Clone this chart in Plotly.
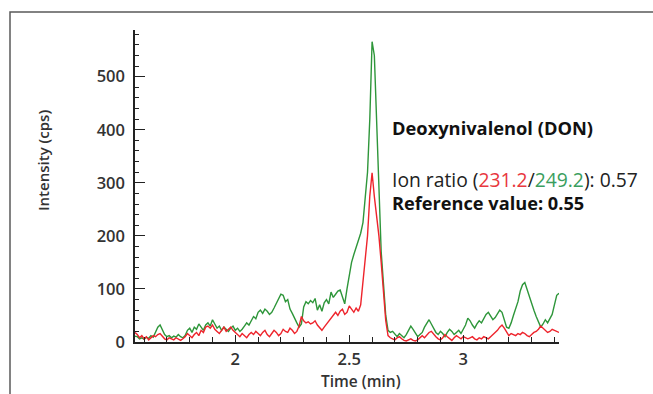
import plotly.graph_objects as go

# ---- data ----
time_min = [
    1.56, 1.57, 1.58, 1.59, 1.60, 1.61, 1.62, 1.63, 1.64, 1.65,
    1.66, 1.67, 1.68, 1.69, 1.70, 1.71, 1.72, 1.73, 1.74, 1.75,
    1.76, 1.77, 1.78, 1.79, 1.80, 1.81, 1.82, 1.83, 1.84, 1.85,
    1.86, 1.87, 1.88, 1.89, 1.90, 1.91, 1.92, 1.93, 1.94, 1.95,
    1.96, 1.97, 1.98, 1.99, 2.00, 2.01, 2.02, 2.03, 2.04, 2.05,
    2.06, 2.07, 2.08, 2.09, 2.10, 2.11, 2.12, 2.13, 2.14, 2.15,
    2.16, 2.17, 2.18, 2.19, 2.20, 2.21, 2.22, 2.23, 2.24, 2.25,
    2.26, 2.27, 2.28, 2.29, 2.30, 2.31, 2.32, 2.33, 2.34, 2.35,
    2.36, 2.37, 2.38, 2.39, 2.40, 2.41, 2.42, 2.43, 2.44, 2.45,
    2.46, 2.47, 2.48, 2.49, 2.50, 2.51, 2.52, 2.53, 2.54, 2.55,
    2.56, 2.57, 2.58, 2.59, 2.60, 2.61, 2.62, 2.63, 2.64, 2.65,
    2.66, 2.67, 2.68, 2.69, 2.70, 2.71, 2.72, 2.73, 2.74, 2.75,
    2.76, 2.77, 2.78, 2.79, 2.80, 2.81, 2.82, 2.83, 2.84, 2.85,
    2.86, 2.87, 2.88, 2.89, 2.90, 2.91, 2.92, 2.93, 2.94, 2.95,
    2.96, 2.97, 2.98, 2.99, 3.00, 3.01, 3.02, 3.03, 3.04, 3.05,
    3.06, 3.07, 3.08, 3.09, 3.10, 3.11, 3.12, 3.13, 3.14, 3.15,
    3.16, 3.17, 3.18, 3.19, 3.20, 3.21, 3.22, 3.23, 3.24, 3.25,
    3.26, 3.27, 3.28, 3.29, 3.30, 3.31, 3.32, 3.33, 3.34, 3.35,
    3.36, 3.37, 3.38, 3.39, 3.40, 3.41, 3.42,
]

ion_249 = [  # green trace (249.2)
    11, 10, 6, 8, 5, 9, 7, 12, 9, 18,
    28, 32, 24, 14, 10, 12, 8, 11, 9, 14,
    10, 8, 12, 22, 26, 18, 28, 24, 34, 28,
    22, 32, 36, 30, 42, 34, 26, 30, 22, 28,
    24, 20, 26, 30, 22, 26, 20, 24, 30, 36,
    32, 40, 48, 44, 56, 60, 54, 62, 58, 52,
    56, 64, 72, 82, 90, 88, 76, 80, 62, 54,
    44, 36, 28, 34, 66, 76, 72, 78, 74, 82,
    60, 70, 58, 74, 80, 72, 94, 84, 90, 96,
    98, 86, 72, 100, 125, 150, 165, 178, 190, 205,
    225, 272, 320, 420, 566, 540, 420, 290, 170, 110,
    50, 22, 18, 20, 14, 10, 16, 12, 8, 14,
    22, 30, 24, 16, 10, 14, 18, 28, 36, 42,
    34, 26, 18, 14, 20, 16, 10, 18, 24, 20,
    14, 18, 22, 16, 24, 32, 45, 40, 32, 26,
    34, 40, 36, 44, 52, 56, 48, 42, 46, 54,
    60, 56, 40, 28, 26, 36, 50, 62, 76, 96,
    108, 112, 98, 86, 74, 60, 48, 36, 28, 34,
    42, 36, 44, 52, 70, 88, 92,
]

ion_231 = [  # red trace (231.2)
    18, 14, 8, 12, 6, 10, 4, 8, 12, 10,
    14, 16, 10, 6, 4, 8, 6, 4, 8, 5,
    3, 6, 10, 16, 12, 8, 14, 18, 12, 22,
    18, 28, 30, 26, 32, 24, 20, 16, 22, 28,
    20, 24, 28, 22, 18, 14, 10, 16, 12, 8,
    14, 18, 14, 20, 16, 12, 18, 22, 14, 10,
    16, 22, 18, 12, 16, 24, 20, 18, 26, 22,
    16, 20, 30, 48, 40, 36, 38, 34, 36, 40,
    32, 26, 22, 28, 34, 40, 46, 52, 56, 50,
    58, 62, 52, 56, 68, 62, 56, 64, 58, 70,
    110, 150, 200, 275, 319, 274, 240, 200, 150, 95,
    40, 12, 8, 6, 4, 8, 10, 6, 3, 2,
    4, 6, 3, 2, 4, 8, 12, 8, 14, 18,
    20, 14, 10, 6, 4, 8, 14, 10, 6, 3,
    8, 12, 9, 6, 10, 8, 6, 8, 10, 6,
    4, 8, 6, 10, 8, 6, 10, 14, 18, 22,
    28, 32, 26, 18, 12, 16, 14, 12, 16, 14,
    18, 16, 12, 10, 14, 18, 20, 24, 30, 26,
    22, 18, 20, 24, 22, 20, 18,
]

x_ticks = [2, 2.5, 3]
x_tick_labels = ["2", "2.5", "3"]
y_ticks = [0, 100, 200, 300, 400, 500]
y_tick_labels = ["0", "100", "200", "300", "400", "500"]

compound = "Deoxynivalenol (DON)"
ratio_text = 'Ion ratio (<span style="color:#e8383e">231.2</span>/<span style="color:#3a9e5e">249.2</span>): 0.57'
reference_text = "<b>Reference value: 0.55</b>"

GREEN = "rgb(46,150,58)"
RED = "rgb(238,36,44)"
FONT = "'Open Sans', Lato, sans-serif"

# ---- layout geometry (pixels) ----
W, H = 653, 394
L, R, T, B = 135, 94, 30, 52
PW, PH = W - L - R, H - T - B


def px(x):
    return (x - L) / PW


def py(y):
    return (H - B - y) / PH


fig = go.Figure()
fig.add_trace(go.Scatter(x=time_min, y=ion_249, mode="lines",
                         line=dict(color=GREEN, width=1.4), showlegend=False))
fig.add_trace(go.Scatter(x=time_min, y=ion_231, mode="lines",
                         line=dict(color=RED, width=1.4), showlegend=False))

axis_common = dict(showgrid=False, zeroline=False, showline=True,
                   linecolor="#222", linewidth=1.5,
                   ticks="inside", tickcolor="#222", tickwidth=1.3,
                   tickfont=dict(family=FONT, size=16.5, color="#333", weight=600))

fig.update_xaxes(range=[1.56, 3.42], tickvals=x_ticks, ticktext=x_tick_labels,
                 ticklen=7, ticklabelstandoff=1,
                 minor=dict(dtick=0.1, tick0=2, ticks="inside", ticklen=5,
                            tickcolor="#222", tickwidth=1.2),
                 **axis_common)
fig.update_yaxes(range=[0, 588], tickvals=y_ticks, ticktext=y_tick_labels,
                 ticklen=10, ticklabelstandoff=5,
                 minor=dict(dtick=20, tick0=0, ticks="inside", ticklen=4,
                            tickcolor="#222", tickwidth=1.2),
                 **axis_common)

annotations = [
    dict(x=px(43), y=py(161), text="Intensity (cps)", textangle=-90,
         font=dict(family=FONT, size=15, color="#333", weight=600)),
    dict(x=px(361), y=py(381), text="Time (min)",
         font=dict(family=FONT, size=15.5, color="#333", weight=600)),
    dict(x=px(390), y=py(127), text="<b>" + compound + "</b>", xanchor="left",
         font=dict(family=FONT, size=18.3, color="#111")),
    dict(x=px(390), y=py(179), text=ratio_text, xanchor="left",
         font=dict(family=FONT, size=19.3, color="#222")),
    dict(x=px(390), y=py(203), text=reference_text, xanchor="left",
         font=dict(family=FONT, size=18.2, color="#111")),
]
for a in annotations:
    a.update(xref="paper", yref="paper", showarrow=False, yanchor="middle")
    a.setdefault("xanchor", "center")

fig.update_layout(
    width=W, height=H,
    margin=dict(l=L, r=R, t=T, b=B),
    paper_bgcolor="white", plot_bgcolor="white",
    annotations=annotations,
    shapes=[dict(type="rect", xref="paper", yref="paper",
                 x0=px(10), x1=px(660), y0=py(420), y1=py(12),
                 line=dict(color="#5a5a5a", width=1.5), layer="below")],
)

fig.write_html("out.html")
